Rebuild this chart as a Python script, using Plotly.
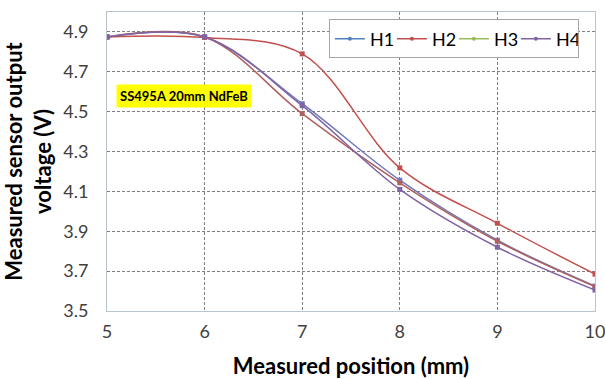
import plotly.graph_objects as go

positions = [5, 6, 7, 8, 9, 10]
h1 = [4.875, 4.875, 4.54, 4.156, 3.855, 3.625]
h2 = [4.875, 4.872, 4.79, 4.218, 3.94, 3.685]
h3 = [4.875, 4.875, 4.49, 4.143, 3.85, 3.622]
h4 = [4.875, 4.875, 4.53, 4.11, 3.82, 3.605]
series_names = ["H1", "H2", "H3", "H4"]
legend_colors = ["#4F81BD", "#C0504D", "#9BBB59", "#8064A2"]
line_colors = ["#6F78B8", "#C0504D", "#B0605F", "#8064A2"]
y_ticks = [3.5, 3.7, 3.9, 4.1, 4.3, 4.5, 4.7, 4.9]
x_ticks = [5, 6, 7, 8, 9, 10]

FONT = "Lato"
fig = go.Figure()
for name, ys, lc in zip(series_names, [h1, h2, h3, h4], line_colors):
    fig.add_trace(go.Scatter(
        x=positions, y=ys, mode="lines+markers", name=name, showlegend=False,
        line=dict(color=lc, width=1.5, shape="spline", smoothing=1.0),
        marker=dict(color=lc, size=5, symbol="square"),
    ))
for name, c in zip(series_names, legend_colors):
    fig.add_trace(go.Scatter(
        x=[None], y=[None], mode="lines+markers", name=name,
        line=dict(color=c, width=1.6), marker=dict(color=c, size=4),
    ))

fig.add_annotation(
    x=5.79, y=4.58, xref="x", yref="y", text="<b>SS495A 20mm NdFeB</b>",
    showarrow=False, bgcolor="#FFFF00", font=dict(family=FONT, size=13, color="#000000"),
    borderpad=3,
)

fig.update_layout(
    width=605, height=379,
    margin=dict(l=107, r=10, t=12, b=68),
    paper_bgcolor="white", plot_bgcolor="white",
    font=dict(family=FONT, color="#404040"),
    legend=dict(
        orientation="h", x=0.967, xanchor="right", y=0.975, yanchor="top",
        bordercolor="#A6A6A6", borderwidth=1, bgcolor="white",
        font=dict(family=FONT, size=18, color="#000000"),
        itemwidth=30, entrywidth=17, entrywidthmode="pixels", tracegroupgap=0,
    ),
    xaxis=dict(
        range=[5, 10], tickvals=x_ticks, ticks="", showgrid=True, automargin=False,
        ticklabeloverflow="allow",
        gridcolor="#7F7F7F", griddash="3px,2px", gridwidth=1,
        showline=True, linecolor="#B9C3D0", linewidth=1, mirror=True,
        tickfont=dict(family=FONT, size=18, color="#404040"), ticklabelstandoff=4,
        title=dict(text="<b>Measured position (mm)</b>", font=dict(family=FONT, size=22, color="#000000"), standoff=20),
        zeroline=False,
    ),
    yaxis=dict(
        range=[3.5, 5.0], tickvals=y_ticks, ticktext=[f"{v:.1f}" for v in y_ticks], ticks="",
        automargin=False, ticklabeloverflow="allow",
        showgrid=True, gridcolor="#7F7F7F", griddash="3px,2px", gridwidth=1,
        showline=True, linecolor="#B9C3D0", linewidth=1, mirror=True,
        tickfont=dict(family=FONT, size=18, color="#404040"), ticklabelstandoff=14,
        title=dict(text="<b>Measured sensor output<br>voltage (V)</b>", font=dict(family=FONT, size=22, color="#000000"), standoff=8),
        zeroline=False,
    ),
)

fig.write_html("out.html")
